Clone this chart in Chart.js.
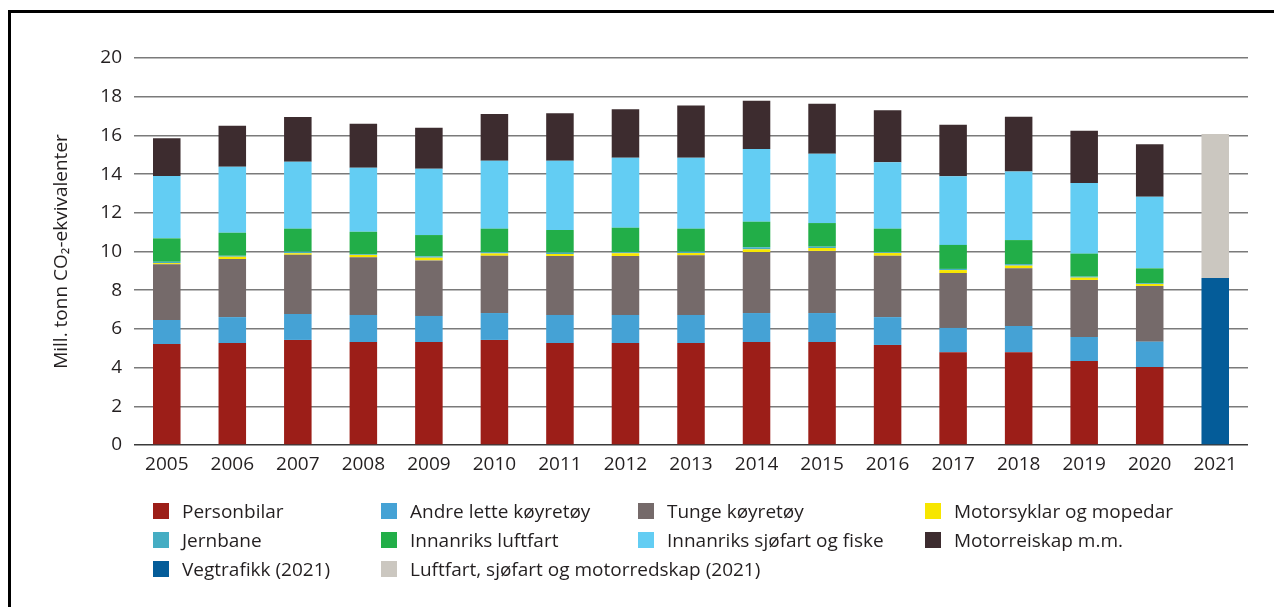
<!DOCTYPE html>
<html>
<head>
<meta charset="utf-8">
<script src="https://cdn.jsdelivr.net/npm/chart.js@4.4.1/dist/chart.umd.min.js"></script>
<style>
  html, body { margin: 0; padding: 0; background: #fff; }
  body { width: 1274px; height: 607px; position: relative; overflow: hidden; font-family: "Open Sans", sans-serif; }
  #frame { position: absolute; left: 8px; top: 10px; width: 1300px; height: 620px; border-left: 3px solid #000; border-top: 3px solid #000; }
  #wrap { position: absolute; left: 0; top: 0; width: 1274px; height: 607px; }
  #legend { position: absolute; left: 0; top: 0; width: 1274px; height: 607px; pointer-events: none; }
  .item { position: absolute; height: 24px; display: flex; align-items: center; color: #231f20; font-size: 19px; white-space: nowrap; }
  .box { width: 16px; height: 16px; margin-right: 13px; flex: none; }
</style>
</head>
<body>
<div id="frame"></div>
<div id="wrap"><canvas id="myChart"></canvas></div>
<div id="legend"></div>
<script>
const years = ["2005", "2006", "2007", "2008", "2009", "2010", "2011", "2012", "2013", "2014", "2015", "2016", "2017", "2018", "2019", "2020", "2021"];

// mill. tonn CO2-ekvivalenter
const personbilar = [5.22, 5.27, 5.43, 5.32, 5.32, 5.43, 5.27, 5.27, 5.27, 5.32, 5.32, 5.17, 4.79, 4.79, 4.34, 4.03, null];
const andreLette = [1.24, 1.34, 1.34, 1.40, 1.35, 1.39, 1.45, 1.45, 1.45, 1.50, 1.50, 1.44, 1.26, 1.36, 1.24, 1.31, null];
const tunge = [2.88, 3.00, 3.06, 2.98, 2.87, 2.96, 3.05, 3.05, 3.08, 3.15, 3.21, 3.17, 2.84, 2.98, 2.95, 2.88, null];
const motorsyklar = [0.06, 0.12, 0.08, 0.12, 0.14, 0.12, 0.10, 0.14, 0.12, 0.14, 0.15, 0.14, 0.15, 0.14, 0.12, 0.10, null];
const jernbane = [0.07, 0.05, 0.08, 0.03, 0.07, 0.07, 0.07, 0.05, 0.07, 0.11, 0.07, 0.04, 0.06, 0.08, 0.05, 0.04, null];
const luftfart = [1.21, 1.19, 1.19, 1.17, 1.10, 1.21, 1.17, 1.27, 1.19, 1.32, 1.22, 1.22, 1.24, 1.24, 1.19, 0.77, null];
const sjofart = [3.22, 3.41, 3.46, 3.31, 3.43, 3.51, 3.58, 3.62, 3.67, 3.76, 3.58, 3.43, 3.55, 3.55, 3.65, 3.70, null];
const motorreiskap = [1.95, 2.12, 2.31, 2.27, 2.12, 2.42, 2.45, 2.50, 2.70, 2.49, 2.59, 2.69, 2.66, 2.83, 2.70, 2.71, null];
const vegtrafikk2021 = [null, null, null, null, null, null, null, null, null, null, null, null, null, null, null, null, 8.63];
const ovrige2021 = [null, null, null, null, null, null, null, null, null, null, null, null, null, null, null, null, 7.44];

const yTicks = [0, 2, 4, 6, 8, 10, 12, 14, 16, 18, 20];

const series = [
  { label: "Personbilar", data: personbilar, color: "#9c1e18" },
  { label: "Andre lette køyretøy", data: andreLette, color: "#45a2d5" },
  { label: "Tunge køyretøy", data: tunge, color: "#756a6a" },
  { label: "Motorsyklar og mopedar", data: motorsyklar, color: "#f7e600" },
  { label: "Jernbane", data: jernbane, color: "#45adc3" },
  { label: "Innanriks luftfart", data: luftfart, color: "#22ae48" },
  { label: "Innanriks sjøfart og fiske", data: sjofart, color: "#63cdf3" },
  { label: "Motorreiskap m.m.", data: motorreiskap, color: "#3d2c2f" },
  { label: "Vegtrafikk (2021)", data: vegtrafikk2021, color: "#045c99" },
  { label: "Luftfart, sjøfart og motorredskap (2021)", data: ovrige2021, color: "#cbc7c0" },
];

const font = { family: "'Open Sans', sans-serif", size: 19 };

new Chart(document.getElementById("myChart"), {
  type: "bar",
  data: {
    labels: years,
    datasets: series.map((s) => ({
      label: s.label,
      data: s.data,
      backgroundColor: s.color,
      borderWidth: 0,
      categoryPercentage: 1,
      barPercentage: 0.42,
    })),
  },
  options: {
    animation: false,
    responsive: true,
    maintainAspectRatio: false,
    layout: { padding: { top: 58, right: 26, bottom: 0, left: 0 } },
    plugins: {
      legend: { display: false },
      tooltip: { enabled: false },
    },
    scales: {
      x: {
        stacked: true,
        grid: { display: false, drawTicks: false },
        border: { display: false },
        ticks: { color: "#231f20", font: font, padding: 8, maxRotation: 0 },
        afterFit: (scale) => { scale.height = 162; },
      },
      y: {
        stacked: true,
        min: 0,
        max: 20,
        afterBuildTicks: (scale) => { scale.ticks = yTicks.map((v) => ({ value: v })); },
        grid: { color: (ctx) => (ctx.tick && ctx.tick.value === 0 ? "#3a3a3a" : "#7a7a7a"), lineWidth: 1.5, drawTicks: false },
        border: { display: false },
        ticks: { color: "#231f20", font: font, padding: 12 },
        title: {
          display: true,
          text: "Mill. tonn CO₂-ekvivalenter",
          color: "#231f20",
          font: font,
          padding: { top: 50, bottom: 0 },
        },
        afterFit: (scale) => { scale.width = 134; },
      },
    },
  },
});

// legend laid out as in the original: 4 columns, 3 rows
const legendCols = [153, 381, 638, 925];
const legendRows = [511, 540, 569];
const legendEl = document.getElementById("legend");
series.forEach((s, i) => {
  const div = document.createElement("div");
  div.className = "item";
  div.style.left = legendCols[i % 4] + "px";
  div.style.top = legendRows[Math.floor(i / 4)] - 12 + "px";
  div.innerHTML = '<span class="box" style="background:' + s.color + '"></span><span>' + s.label + "</span>";
  legendEl.appendChild(div);
});
</script>
</body>
</html>
